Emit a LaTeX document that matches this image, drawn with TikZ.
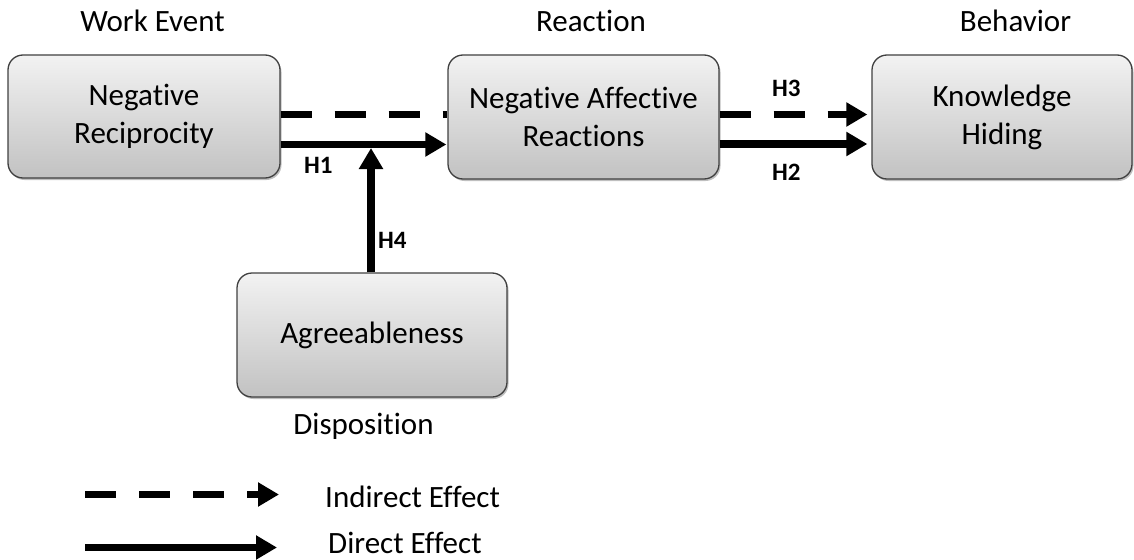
\documentclass[tikz,border=0pt]{standalone}
\usepackage{fontspec}
\setmainfont[RawFeature={-liga}]{Carlito}
\usetikzlibrary{arrows.meta,shadows,calc}
\begin{document}
\begin{tikzpicture}[x=1pt,y=-1pt,
  box/.style={draw=black!75, line width=1.3pt, rounded corners=15pt,
    top color=black!5, bottom color=black!24, align=center,
    font=\fontsize{31}{38}\selectfont, inner sep=0pt,
    drop shadow={shadow xshift=1.5pt, shadow yshift=-2pt, opacity=0.25, fill=black}},
  lbl/.style={font=\fontsize{31}{36}\selectfont, anchor=base},
  hlbl/.style={font=\fontsize{25}{28}\selectfont\bfseries, anchor=base west, inner sep=0pt},
  arr/.style={line width=7.5pt, -{Triangle[length=21pt,width=23pt]}},
  dsh/.style={line width=7.5pt, dash pattern=on 31pt off 23pt},
]
\useasboundingbox (0,0) rectangle (1134,559);

\node[box, minimum width=272pt, minimum height=123pt] (nr) at (144,116.5) {Negative\\Reciprocity};
\node[box, minimum width=271pt, minimum height=124pt] (nar) at (583.5,117) {Negative Affective\\Reactions};
\node[box, minimum width=260pt, minimum height=124pt] (kh) at (1002,117) {Knowledge\\Hiding};
\node[box, minimum width=270pt, minimum height=124pt] (ag) at (372,335) {Agreeableness};

\node[lbl] (we) at (152.5,32) {Work Event};
\node[lbl] (re) at (591,32) {Reaction};
\node[lbl] (be) at (1015.5,32) {Behavior};
\node[lbl] (di) at (363.5,434) {Disposition};

% paths
\draw[dsh] ([yshift=2pt]nr.east) -- ([yshift=2.5pt]nar.west);
\draw[arr, shorten >=1pt] ([yshift=-28pt]nr.east) -- ([yshift=-27.5pt]nar.west);
\coordinate (mod) at (371,148);
\draw[arr] (ag.north -| mod) -- (mod);
\draw[arr, dash pattern=on 31pt off 23pt, shorten >=4pt] ([yshift=2.5pt]nar.east) -- ([yshift=2.5pt]kh.west);
\draw[arr, shorten >=4pt] ([yshift=-27pt]nar.east) -- ([yshift=-27pt]kh.west);

\node[hlbl] (h1) at (304,173) {H1};
\node[hlbl] (h4) at (378,248) {H4};
\node[hlbl] (h3) at (772,97) {H3};
\node[hlbl] (h2) at (772,180) {H2};

% legend
\coordinate (l1s) at (85,494.5);
\coordinate (l1e) at (279,494.5);
\coordinate (l2s) at (85,547.5);
\coordinate (l2e) at (277,547.5);
\draw[arr, dash pattern=on 31pt off 23pt] (l1s) -- (l1e);
\draw[arr] (l2s) -- (l2e);
\node[lbl, anchor=base west, inner sep=0pt] (ind) at (325,507) {Indirect Effect};
\node[lbl, anchor=base west, inner sep=0pt] (dir) at (328,553) {Direct Effect};
\end{tikzpicture}
\end{document}
